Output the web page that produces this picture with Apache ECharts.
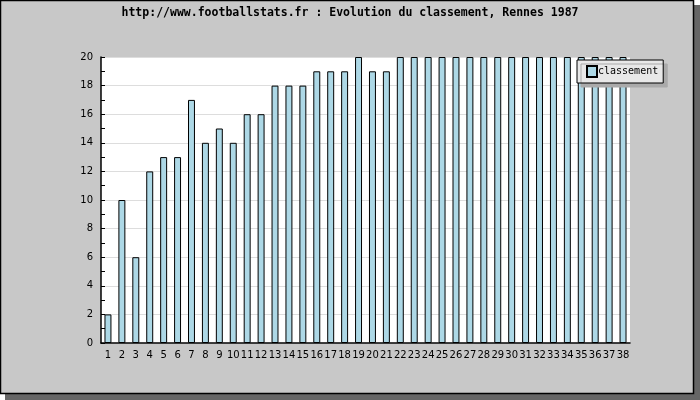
<!DOCTYPE html>
<html>
<head>
<meta charset="utf-8">
<script src="https://cdn.jsdelivr.net/npm/echarts@6/dist/echarts.min.js"></script>
<style>html,body{margin:0;padding:0;background:#fff}#c{width:700px;height:400px}</style>
</head>
<body>
<div id="c"></div>
<script>
var categories = ['1','2','3','4','5','6','7','8','9','10','11','12','13','14','15','16','17','18','19','20','21','22','23','24','25','26','27','28','29','30','31','32','33','34','35','36','37','38'];
var classement = [2,10,6,12,13,13,17,14,15,14,16,16,18,18,18,19,19,19,20,19,19,20,20,20,20,20,20,20,20,20,20,20,20,20,20,20,20,20];
var titleText = 'http://www.footballstats.fr : Evolution du classement, Rennes 1987';

var chart = echarts.init(document.getElementById('c'));
chart.setOption({
  animation: false,
  backgroundColor: '#ffffff',
  graphic: [
    {type: 'rect', z: -10, shape: {x: 5, y: 5, width: 695, height: 395}, style: {fill: '#666666'}},
    {type: 'rect', z: -9, shape: {x: 0.5, y: 0.5, width: 693, height: 393}, style: {fill: '#c8c8c8', stroke: '#000', lineWidth: 1.5}}
  ],
  title: {
    text: titleText,
    left: 'center',
    top: 2,
    textStyle: {fontFamily: 'DejaVu Sans Mono', fontSize: 11.5, fontWeight: 'bold', color: '#000'}
  },
  legend: {
    left: 577, top: 60,
    orient: 'vertical',
    backgroundColor: '#e8e8e8',
    borderColor: '#000', borderWidth: 1,
    borderRadius: 0,
    padding: [5, 5, 5, 9],
    shadowColor: '#aaaaaa', shadowOffsetX: 4, shadowOffsetY: 4, shadowBlur: 0,
    itemWidth: 10, itemHeight: 11, itemGap: 2,
    icon: 'rect',
    textStyle: {fontFamily: 'DejaVu Sans Mono', fontSize: 10, color: '#000', padding: [0, 0, 0, -4]},
    data: ['classement']
  },
  grid: {left: 101, right: 70, top: 57, bottom: 57, show: true, backgroundColor: '#ffffff', borderWidth: 0},
  xAxis: {
    type: 'category',
    data: categories,
    boundaryGap: true,
    axisLine: {lineStyle: {color: '#000', width: 1.5}},
    axisTick: {inside: true, length: 4, alignWithLabel: false, interval: 0, lineStyle: {color: '#000'}},
    axisLabel: {interval: 0, fontFamily: 'DejaVu Sans', fontSize: 10, color: '#000', margin: 7}
  },
  yAxis: {
    type: 'value',
    min: 0, max: 20, interval: 2,
    axisLine: {show: true, lineStyle: {color: '#000', width: 1.5}},
    axisTick: {show: true, inside: true, length: 4, lineStyle: {color: '#000'}},
    minorTick: {show: true, splitNumber: 2, length: 4, lineStyle: {color: '#000'}},
    splitLine: {show: true, lineStyle: {color: '#dddddd'}},
    axisLabel: {fontFamily: 'DejaVu Sans', fontSize: 10, color: '#000', margin: 8}
  },
  series: [{
    name: 'classement',
    type: 'bar',
    data: classement,
    barWidth: '50%',
    itemStyle: {color: '#add8e6', borderColor: '#000', borderWidth: 1}
  }]
});
</script>
</body>
</html>
